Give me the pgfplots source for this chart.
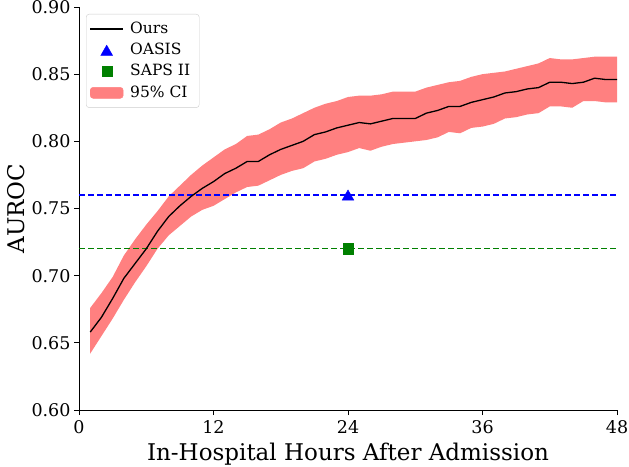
\documentclass[border=0pt]{standalone}
\usepackage{pgfplots}
\usepackage{pgfplotstable}
\pgfplotsset{compat=1.18}
\usepgfplotslibrary{fillbetween}
\usepackage{fontspec}
\setmainfont{DejaVu Serif}
\definecolor{cifill}{RGB}{255,128,128}
\definecolor{mgreen}{RGB}{0,128,0}
\definecolor{legframe}{RGB}{204,204,204}

\pgfplotstableread{
h m lo hi
1 0.658 0.642 0.676
2 0.669 0.655 0.687
3 0.683 0.668 0.699
4 0.698 0.682 0.715
5 0.709 0.695 0.727
6 0.720 0.707 0.738
7 0.733 0.720 0.748
8 0.744 0.730 0.759
9 0.752 0.737 0.767
10 0.759 0.744 0.775
11 0.765 0.749 0.782
12 0.770 0.752 0.788
13 0.776 0.757 0.794
14 0.780 0.762 0.798
15 0.785 0.766 0.804
16 0.785 0.767 0.805
17 0.790 0.771 0.809
18 0.794 0.775 0.814
19 0.797 0.778 0.817
20 0.800 0.780 0.821
21 0.805 0.785 0.825
22 0.807 0.787 0.828
23 0.810 0.790 0.830
24 0.812 0.792 0.833
25 0.814 0.795 0.834
26 0.813 0.793 0.834
27 0.815 0.796 0.835
28 0.817 0.798 0.837
29 0.817 0.799 0.837
30 0.817 0.800 0.837
31 0.821 0.801 0.840
32 0.823 0.803 0.842
33 0.826 0.807 0.844
34 0.826 0.806 0.845
35 0.829 0.810 0.848
36 0.831 0.811 0.850
37 0.833 0.813 0.851
38 0.836 0.817 0.852
39 0.837 0.818 0.854
40 0.839 0.820 0.856
41 0.840 0.821 0.858
42 0.844 0.826 0.862
43 0.844 0.826 0.861
44 0.843 0.825 0.861
45 0.844 0.830 0.862
46 0.847 0.830 0.863
47 0.846 0.829 0.863
48 0.846 0.829 0.863
}\cidata

\begin{document}
\begin{tikzpicture}
\begin{axis}[
  name=ax,
  scale only axis,
  width=538pt, height=403pt,
  xmin=0, xmax=48, ymin=0.60, ymax=0.90,
  xtick={0,12,24,36,48},
  ytick={0.60,0.65,0.70,0.75,0.80,0.85,0.90},
  axis lines=left,
  axis line style={-, line width=0.9pt},
  tick align=outside,
  major tick length=5pt,
  tick style={line width=0.9pt, black},
  /pgf/number format/assume math mode=true,
  yticklabel style={/pgf/number format/.cd, fixed, fixed zerofill, precision=2},
  tick label style={font=\fontsize{17.5}{20}\selectfont},
  xticklabel style={yshift=-2pt},
  xlabel={In-Hospital Hours After Admission},
  ylabel={AUROC},
  label style={font=\fontsize{23}{27}\selectfont},
  xlabel style={yshift=-2pt},
  legend cell align=left,
  legend image code/.code={\draw[mark repeat=2,mark phase=2,#1] plot coordinates {(0pt,0pt) (16.5pt,0pt) (33pt,0pt)};},
  legend style={at={(0,1)}, anchor=north west, xshift=7pt, yshift=-7pt,
    draw=legframe, rounded corners=3pt, fill=white,
    font=\fontsize{15.5}{18}\selectfont,
    inner xsep=3pt, inner ysep=5.5pt, row sep=2.8pt,
    nodes={inner xsep=6pt, inner ysep=2pt, text height=11.5pt, text depth=3pt}},
]
\addplot[name path=up, draw=none, forget plot] table[x=h, y=hi] {\cidata};
\addplot[name path=dn, draw=none, forget plot] table[x=h, y=lo] {\cidata};
\addplot[cifill, draw=none, forget plot] fill between[of=up and dn];
\addplot[blue, dashed, dash pattern=on 6pt off 3pt, line width=1.2pt, forget plot] coordinates {(0,0.76) (48,0.76)};
\addplot[mgreen, dashed, dash pattern=on 6pt off 3pt, line width=1.2pt, forget plot] coordinates {(0,0.72) (48,0.72)};
\addplot[black, line width=1.3pt, forget plot] table[x=h, y=m] {\cidata};
\addplot[only marks, mark=triangle*, blue, mark size=6.8pt, mark options={yshift=-1.7pt}, forget plot] coordinates {(24,0.76)};
\addplot[only marks, mark=square*, mgreen, mark size=5.2pt, forget plot] coordinates {(24,0.72)};
\addlegendimage{black, line width=2pt}
\addlegendentry{Ours}
\addlegendimage{only marks, mark=triangle*, blue, mark size=6.8pt, mark options={yshift=-1.7pt}}
\addlegendentry{OASIS}
\addlegendimage{only marks, mark=square*, mgreen, mark size=5pt}
\addlegendentry{SAPS II}
\addlegendimage{cifill, legend image code/.code={\fill[cifill] (0pt,-5.5pt) rectangle (33pt,5.5pt);}}
\addlegendentry{95\% CI}
\end{axis}
\pgfresetboundingbox
\path[use as bounding box] ([xshift=-79pt,yshift=-56pt]ax.south west) rectangle ([xshift=12pt,yshift=7pt]ax.north east);
\end{tikzpicture}
\end{document}
